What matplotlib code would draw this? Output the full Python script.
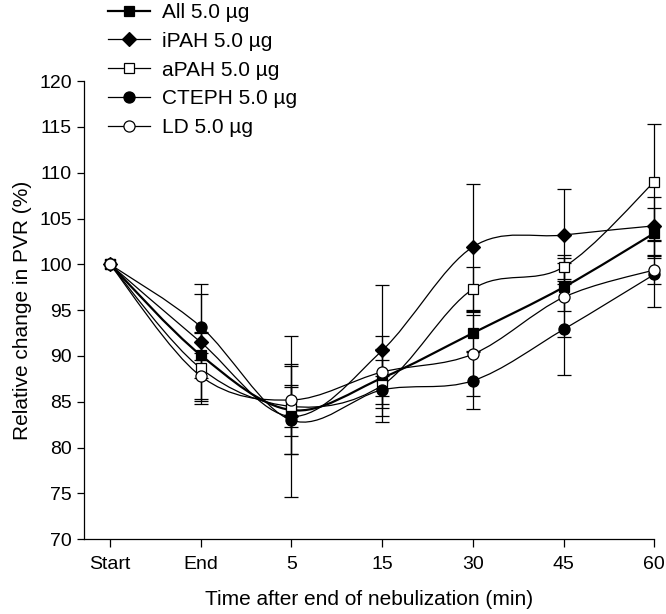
import numpy as np
import matplotlib
matplotlib.use("Agg")
import matplotlib.pyplot as plt
from matplotlib.path import Path
from matplotlib.patches import PathPatch
from matplotlib.lines import Line2D

plt.rcParams['font.family'] = ['Liberation Sans', 'DejaVu Sans']

# time points (categorical)
time_labels = ["Start", "End", "5", "15", "30", "45", "60"]

# mean relative change in PVR (%) and SD
all_mean = [100, 90.1, 84.1, 87.6, 92.5, 97.5, 103.4]
all_sd = [0, 2.5, 4.8, 2.0, 2.0, 2.6, 2.7]
ipah_mean = [100, 91.5, 83.4, 90.6, 101.9, 103.2, 104.2]
ipah_sd = [0, 6.4, 8.8, 7.2, 6.9, 5.0, 3.2]
apah_mean = [100, 88.65, 84.5, 86.8, 97.3, 99.7, 109.0]
apah_sd = [0, 3.9, 2.3, 4.0, 2.4, 1.3, 6.3]
cteph_mean = [100, 93.2, 83.0, 86.3, 87.3, 92.9, 98.9]
cteph_sd = [0, 3.6, 3.65, 1.5, 3.1, 5.0, 3.6]
ld_mean = [100, 87.8, 85.2, 88.25, 90.2, 96.4, 99.4]
ld_sd = [0, 2.5, 3.9, 3.95, 4.6, 4.3, 1.5]

series_names = ["All 5.0 \u00b5g", "iPAH 5.0 \u00b5g", "aPAH 5.0 \u00b5g",
                "CTEPH 5.0 \u00b5g", "LD 5.0 \u00b5g"]


def smooth_path(x, y):
    # smoothed line through the points (bezier, like a spreadsheet "smoothed line")
    pts = np.column_stack([x, y]).astype(float)
    n = len(pts)
    verts = [pts[0]]
    codes = [Path.MOVETO]
    for i in range(n - 1):
        p0 = pts[max(i - 1, 0)]
        p1 = pts[i]
        p2 = pts[i + 1]
        p3 = pts[min(i + 2, n - 1)]
        verts += [p1 + (p2 - p0) / 6, p2 - (p3 - p1) / 6, p2]
        codes += [Path.CURVE4] * 3
    return Path(verts, codes)


fig = plt.figure(figsize=(6.66, 6.14), dpi=100)
ax = fig.add_axes([0.1266, 0.1217, 0.8558, 0.7463])

x = np.arange(len(time_labels))

styles = [
    dict(marker="s", ms=7, mfc="black", lw=1.6),
    dict(marker="D", ms=7, mfc="black", lw=0.9),
    dict(marker="s", ms=7.5, mfc="white", lw=0.9),
    dict(marker="o", ms=8, mfc="black", lw=0.9),
    dict(marker="o", ms=8, mfc="white", lw=0.9),
]
means = [all_mean, ipah_mean, apah_mean, cteph_mean, ld_mean]
sds = [all_sd, ipah_sd, apah_sd, cteph_sd, ld_sd]

# lines first
for m, st in zip(means, styles):
    patch = PathPatch(smooth_path(x, m), facecolor="none", edgecolor="black",
                      lw=st["lw"], zorder=2, clip_on=False)
    ax.add_patch(patch)

# error bars
for m, s in zip(means, sds):
    ax.errorbar(x[1:], m[1:], yerr=s[1:], fmt="none", ecolor="black",
                elinewidth=0.9, capsize=5, capthick=0.9, zorder=3, clip_on=False)

# markers on top
handles = []
for m, st, name in zip(means, styles, series_names):
    ax.plot(x, m, linestyle="none", marker=st["marker"], ms=st["ms"],
            mfc=st["mfc"], mec="black", mew=0.9, zorder=4, clip_on=False)
    handles.append(Line2D([], [], color="black", lw=st["lw"], marker=st["marker"],
                          ms=st["ms"], mfc=st["mfc"], mec="black", mew=0.9))

ax.set_xlim(-0.283, 6)
ax.set_ylim(70, 120)
ax.set_xticks(x)
ax.set_xticklabels(time_labels)
ax.set_yticks(range(70, 121, 5))

for side in ["top", "right"]:
    ax.spines[side].set_visible(False)
for side in ["left", "bottom"]:
    ax.spines[side].set_linewidth(0.9)

ax.tick_params(axis="y", direction="out", length=5, width=0.9, labelsize=14, pad=4)
ax.tick_params(axis="x", direction="out", length=6, width=0.9, labelsize=14, pad=6)

ax.set_xlabel("Time after end of nebulization (min)", fontsize=15, labelpad=12)
ax.set_ylabel("Relative change in PVR (%)", fontsize=15, labelpad=5)

fig.legend(handles=handles, labels=series_names, loc="upper left",
           bbox_to_anchor=(108 / 666, 1 - 3 / 614), frameon=False, fontsize=15,
           handlelength=2.0, handletextpad=0.6, labelspacing=0.47,
           borderpad=0, borderaxespad=0)

fig.savefig("out.png", dpi=100)
